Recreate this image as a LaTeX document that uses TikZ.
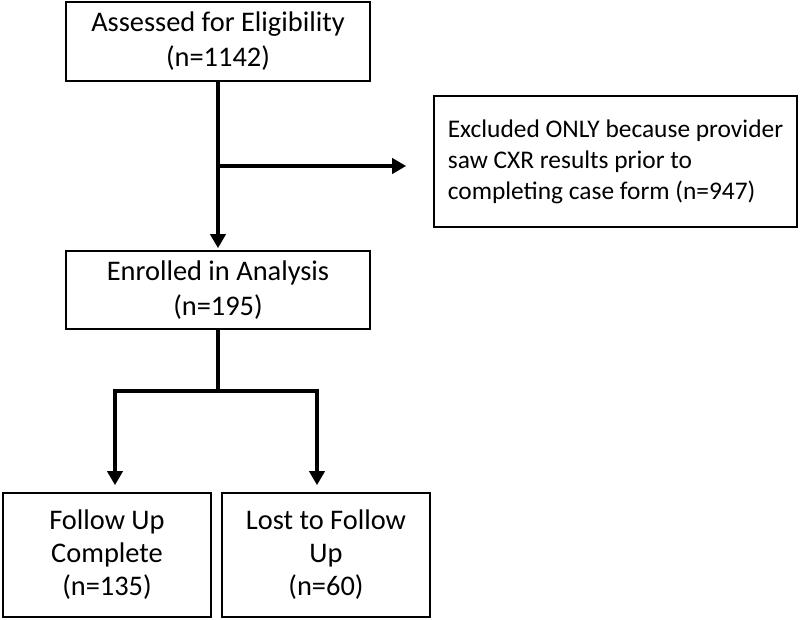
\documentclass[tikz,border=0pt]{standalone}
\usepackage{fontspec}
\setmainfont{Carlito}
\usetikzlibrary{arrows.meta}
\tikzset{
    stage/.style={draw, line width=0.8pt, align=center, inner sep=0pt, font=\fontsize{14.2}{17.5}\selectfont}, % boxes of the flow chart
    flow/.style={line width=2pt, -{Triangle[length=7pt, width=7.5pt]}} % thick connectors
}
\begin{document}
\begin{tikzpicture}[x=0.5pt, y=-0.5pt]
    \useasboundingbox (0,0) rectangle (800,620);

    \node[stage, minimum width=152pt, minimum height=39.5pt] (elig) at (218,41.5) {Assessed for Eligibility\\(n=1142)};
    \node[stage, minimum width=181.5pt, minimum height=65.5pt, align=left,
          font=\fontsize{12.7}{15.5}\selectfont] (excl) at (615.5,161.5) {Excluded ONLY because provider\\saw CXR results prior to\\completing case form (n=947)};
    \node[stage, minimum width=152pt, minimum height=39pt] (enrol) at (218,290) {Enrolled in Analysis\\(n=195)};
    \node[stage, minimum width=104pt, minimum height=62pt, font=\fontsize{14.2}{16.5}\selectfont] (done) at (107,555) {Follow Up\\Complete\\(n=135)};
    \node[stage, minimum width=104pt, minimum height=62pt, font=\fontsize{14.2}{16.5}\selectfont] (lost) at (326,555) {Lost to Follow\\Up\\(n=60)};

    \coordinate (branch) at (218,166);
    \coordinate (split) at (218,391);

    \draw[flow, shorten >=1pt] (elig.south) -- (enrol.north);
    \draw[flow, shorten >=13.5pt] (branch) -- (branch -| excl.west);
    \draw[line width=2pt] (enrol.south) -- (split);
    \draw[flow, shorten >=3.5pt, line join=miter] (split) -| ([xshift=4pt]done.north);
    \draw[flow, shorten >=3.5pt, line join=miter] (split) -| ([xshift=-4.5pt]lost.north);
\end{tikzpicture}
\end{document}
